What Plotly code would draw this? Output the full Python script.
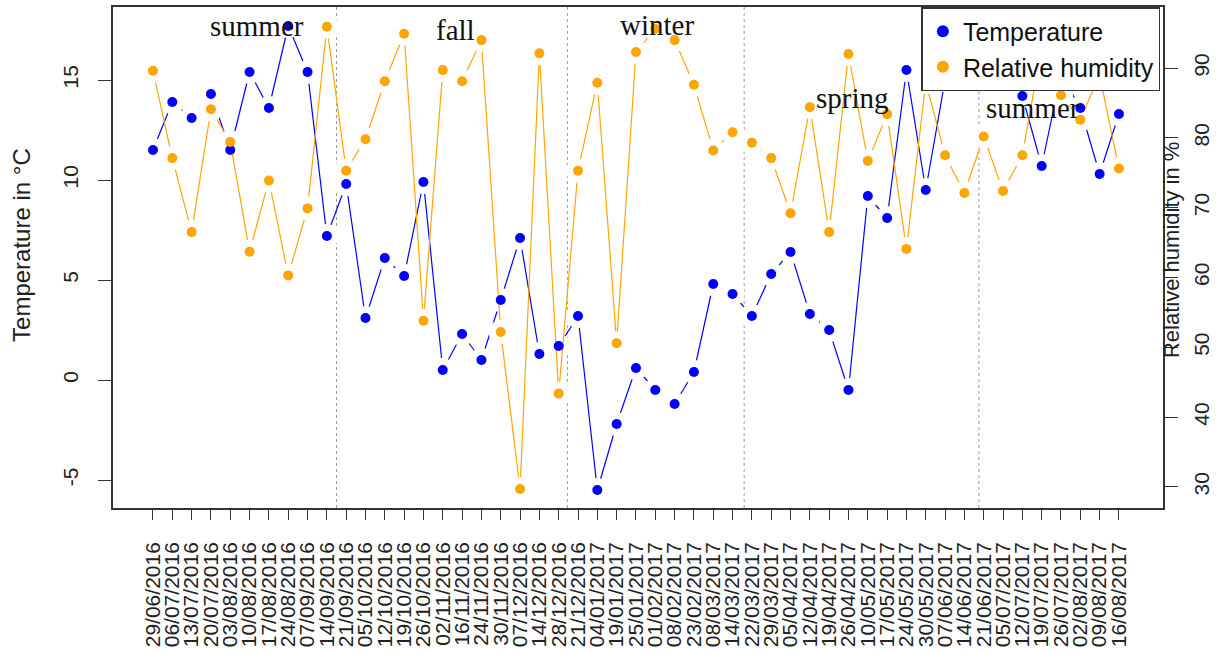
import plotly.graph_objects as go

# Sampling dates (one per visit)
dates = [
    "29/06/2016", "06/07/2016", "13/07/2016", "20/07/2016", "03/08/2016",
    "10/08/2016", "17/08/2016", "24/08/2016", "07/09/2016", "14/09/2016",
    "21/09/2016", "05/10/2016", "12/10/2016", "19/10/2016", "26/10/2016",
    "02/11/2016", "16/11/2016", "24/11/2016", "30/11/2016", "07/12/2016",
    "14/12/2016", "28/12/2016", "21/12/2016", "04/01/2017", "19/01/2017",
    "25/01/2017", "01/02/2017", "08/02/2017", "23/02/2017", "08/03/2017",
    "14/03/2017", "22/03/2017", "29/03/2017", "05/04/2017", "12/04/2017",
    "19/04/2017", "26/04/2017", "10/05/2017", "17/05/2017", "24/05/2017",
    "30/05/2017", "07/06/2017", "14/06/2017", "21/06/2017", "05/07/2017",
    "12/07/2017", "19/07/2017", "26/07/2017", "02/08/2017", "09/08/2017",
    "16/08/2017",
]

# Temperature in degrees Celsius
temperature = [
    11.5, 13.9, 13.1, 14.3, 11.5, 15.4, 13.6, 17.7, 15.4, 7.2,
    9.8, 3.1, 6.1, 5.2, 9.9, 0.5, 2.3, 1.0, 4.0, 7.1,
    1.3, 1.7, 3.2, -5.5, -2.2, 0.6, -0.5, -1.2, 0.4, 4.8,
    4.3, 3.2, 5.3, 6.4, 3.3, 2.5, -0.5, 9.2, 8.1, 15.5,
    9.5, 15.0, 16.8, 17.5, 16.2, 14.2, 10.7, 15.3, 13.6, 10.3,
    13.3,
]

# Relative humidity in percent
humidity = [
    89.6, 77.1, 66.5, 84.1, 79.4, 63.7, 73.9, 60.3, 69.9, 95.9,
    75.3, 79.8, 88.1, 94.9, 53.8, 89.7, 88.1, 94.0, 52.2, 29.7,
    92.1, 43.4, 75.3, 87.9, 50.6, 92.3, 95.6, 94.0, 87.6, 78.2,
    80.8, 79.3, 77.1, 69.2, 84.4, 66.5, 92.0, 76.7, 83.4, 64.1,
    88.0, 77.5, 72.1, 80.2, 72.4, 77.5, 93.0, 86.1, 82.6, 89.0,
    75.6,
]

# Axis ticks
temp_ticks = [-5, 0, 5, 10, 15]
temp_tick_text = ["-5", "0", "5", "10", "15"]
hum_ticks = [30, 40, 50, 60, 70, 80, 90]

# Season boundaries (category index) and season labels
season_breaks = [9.5, 21.45, 30.6, 42.75]
season_names = ["summer", "fall", "winter", "spring", "summer"]
season_x = [5.36, 15.68, 26.09, 36.23, 45.55]
season_y = [17.7, 17.5, 17.75, 14.1, 13.6]

BLUE = "#0000FF"
ORANGE = "#FFA500"
AXIS = "#333333"
TEXT = "#222222"
SANS = "Liberation Sans, Arial, sans-serif"
SERIF = "Liberation Serif, Times New Roman, serif"

temp_range = [-6.4, 18.65]
hum_range = [26.99, 98.74]

fig = go.Figure()

# Each series: connecting line broken by a white disc at every point
# (points-and-lines style), then the coloured points on top
fig.add_trace(go.Scatter(x=dates, y=temperature, mode="lines+markers", yaxis="y",
                         line=dict(color=BLUE, width=1.2),
                         marker=dict(color="white", size=24, line=dict(width=0)),
                         showlegend=False, hoverinfo="skip"))
fig.add_trace(go.Scatter(x=dates, y=humidity, mode="lines+markers", yaxis="y2",
                         line=dict(color=ORANGE, width=1.2),
                         marker=dict(color="white", size=24, line=dict(width=0)),
                         showlegend=False, hoverinfo="skip"))
fig.add_trace(go.Scatter(x=dates, y=temperature, mode="markers", yaxis="y3",
                         name="Temperature",
                         marker=dict(color=BLUE, size=10, line=dict(width=0))))
fig.add_trace(go.Scatter(x=dates, y=humidity, mode="markers", yaxis="y4",
                         name="Relative humidity",
                         marker=dict(color=ORANGE, size=10, line=dict(width=0))))

for xb in season_breaks:
    fig.add_shape(type="line", xref="x", yref="y domain", x0=xb, x1=xb, y0=0, y1=1,
                  line=dict(color="#9a9a9a", width=1, dash="dot"), layer="below")

for name, sx, sy in zip(season_names, season_x, season_y):
    fig.add_annotation(x=sx, y=sy, xref="x", yref="y", text=name, showarrow=False,
                       font=dict(family=SERIF, size=29, color="#111111"),
                       xanchor="center", yanchor="middle")

fig.add_annotation(x=-0.0867, y=0.525, xref="paper", yref="paper",
                   text="Temperature in °C", textangle=-90, showarrow=False,
                   font=dict(family=SANS, size=24, color=TEXT),
                   xanchor="center", yanchor="middle")
fig.add_annotation(x=1.0086, y=0.515, xref="paper", yref="paper",
                   text="Relative humidity in %", textangle=-90, showarrow=False,
                   font=dict(family=SANS, size=22, color=TEXT),
                   xanchor="center", yanchor="middle")

fig.update_layout(
    width=1220, height=651,
    margin=dict(l=113, r=57, t=7, b=143, autoexpand=False),
    paper_bgcolor="white", plot_bgcolor="white",
    font=dict(family=SANS, size=21, color=TEXT),
    xaxis=dict(
        type="category", range=[-2.07, 52.28],
        tickmode="array", tickvals=dates, ticktext=dates,
        tickangle=-90, ticks="outside", ticklen=10, tickwidth=1.2,
        tickcolor=AXIS, showline=True, linecolor=AXIS, linewidth=1.5,
        mirror=True, showgrid=False, zeroline=False,
        tickfont=dict(family=SANS, size=21, color=TEXT),
        ticklabelstandoff=14,
    ),
    yaxis=dict(
        range=temp_range, tickvals=temp_ticks, ticktext=temp_tick_text,
        tickangle=-90, ticks="outside", ticklen=13, tickwidth=1.2,
        tickcolor=AXIS, showline=True, linecolor=AXIS, linewidth=1.5,
        showgrid=False, zeroline=False,
        tickfont=dict(family=SANS, size=21, color=TEXT),
        ticklabelstandoff=12,
    ),
    yaxis2=dict(
        range=hum_range, overlaying="y", side="right",
        tickvals=hum_ticks, tickangle=-90,
        ticks="outside", ticklen=13, tickwidth=1.2, tickcolor=AXIS,
        showline=True, linecolor=AXIS, linewidth=1.5, showgrid=False,
        zeroline=False, tickfont=dict(family=SANS, size=21, color=TEXT),
        ticklabelstandoff=6,
    ),
    yaxis3=dict(range=temp_range, overlaying="y", visible=False),
    yaxis4=dict(range=hum_range, overlaying="y", visible=False),
    legend=dict(
        x=0.9975, y=1.0, xanchor="right", yanchor="top",
        bgcolor="white", bordercolor=AXIS, borderwidth=1.5,
        font=dict(family=SANS, size=25, color="#111111"),
        itemsizing="constant", entrywidth=202, entrywidthmode="pixels",
    ),
    showlegend=True,
)

fig.write_html("out.html")
